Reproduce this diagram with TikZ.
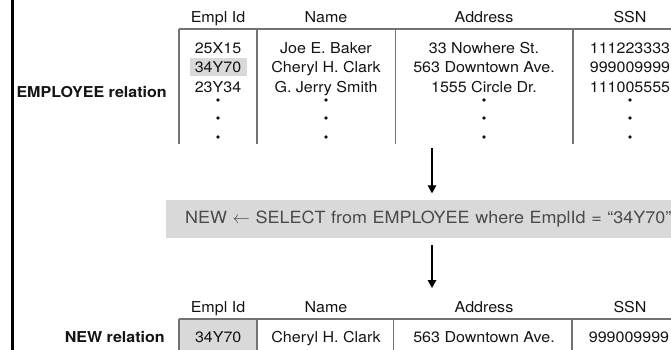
\documentclass[tikz,border=0pt]{standalone}
\usepackage{fontspec}
\setmainfont{TeX Gyre Heros}[FakeStretch=1.07]
\usepackage{tikz}
\usetikzlibrary{arrows.meta}

\definecolor{rulegray}{HTML}{737373}
\definecolor{cellgray}{HTML}{D9D9D9}
\definecolor{ink}{HTML}{141414}
\definecolor{querygray}{HTML}{4A4A4A}

\tikzset{
    txt/.style       = {text=ink, font=\fontsize{15}{18}\selectfont, inner sep=0pt, anchor=base},
    relname/.style   = {text=ink, font=\bfseries\fontsize{15}{18}\selectfont, inner sep=0pt, anchor=base east},
    marked/.style    = {txt, fill=cellgray, minimum width=57pt, minimum height=18pt},
    lowmarked/.style = {txt, fill=cellgray, minimum width=78pt, minimum height=36pt, anchor=north west},
    rule/.style      = {draw=rulegray, line width=1.5pt},
    querybar/.style  = {fill=cellgray, text=querygray, font=\fontsize{16.8}{20}\selectfont, anchor=west,
                        minimum height=38pt, text width=520pt, inner xsep=19pt, inner ysep=0pt, align=left},
    flow/.style      = {-{Triangle[length=8pt,width=8.5pt]}, line width=1.3pt},
}

\begin{document}
\begin{tikzpicture}[x=1pt, y=-1pt]
    \useasboundingbox (0,0) rectangle (671,349);

    % frame line on the left
    \draw[line width=3pt] (12.5,-5) -- (12.5,355);

    % EMPLOYEE relation
    \node[relname] (emplabel) at (167,97.3) {EMPLOYEE relation};
    \node[txt]     (idhead)   at (218,22)   {Empl Id};
    \node[txt]     (namehead) at (326,22)   {Name};
    \node[txt]     (addrhead) at (484,22)   {Address};
    \node[txt]     (ssnhead)  at (630,22)   {SSN};

    \node[txt]     (id1)      at (218,53)   {25X15};
    \node[marked]  (id2)      at (218,72.8) {34Y70};
    \node[txt]     (id3)      at (218,92.6) {23Y34};
    \node[txt]     (name1)    at (326,53)   {Joe E. Baker};
    \node[txt]     (name2)    at (326,72.8) {Cheryl H. Clark};
    \node[txt]     (name3)    at (326,92.6) {G. Jerry Smith};
    \node[txt]     (addr1)    at (484,53)   {33 Nowhere St.};
    \node[txt]     (addr2)    at (484,72.8) {563 Downtown Ave.};
    \node[txt]     (addr3)    at (484,92.6) {1555 Circle Dr.};
    \node[txt]     (ssn1)     at (630,53)   {111223333};
    \node[txt]     (ssn2)     at (630,72.8) {999009999};
    \node[txt]     (ssn3)     at (630,92.6) {111005555};

    \foreach \x in {218,326,484,630}
        \foreach \y in {100,118,137}
            \fill[ink] (\x,\y) circle (1.8pt);

    \draw[rule] (179,29) -- (690,29);
    \draw[rule] (179,29) -- (179,144)
                (257,29) -- (257,144)
                (395.5,29) -- (395.5,144)
                (573,29) -- (573,144);

    % the query
    \node[querybar] (query) at (166,219)
        {NEW $\leftarrow$ SELECT from EMPLOYEE where EmplId = “34Y70”};

    \coordinate (fromtable) at (432,148);
    \coordinate (tonew)     at (432,288);
    \path
        (fromtable)
            edge [flow, shorten >=6.5pt] (fromtable |- query.north)
        (fromtable |- query.south)
            edge [flow, shorten <=7pt] (tonew);

    % NEW relation
    \node[relname]   (newlabel)   at (165,342.5) {NEW relation};
    \node[txt]       (newidhead)  at (218,312)   {Empl Id};
    \node[txt]       (newnamehd)  at (326,312)   {Name};
    \node[txt]       (newaddrhd)  at (484,312)   {Address};
    \node[txt]       (newssnhd)   at (630,312)   {SSN};

    \node[lowmarked] (newid)      at (179,319)   {34Y70};
    \node[txt]       (newname)    at (326,342.7) {Cheryl H. Clark};
    \node[txt]       (newaddr)    at (484,342.7) {563 Downtown Ave.};
    \node[txt]       (newssn)     at (629,342.7) {999009999};

    \draw[rule] (179,319) -- (690,319);
    \draw[rule] (179,319) -- (179,360)
                (257,319) -- (257,360)
                (393.5,319) -- (393.5,360)
                (572,319) -- (572,360);
\end{tikzpicture}
\end{document}
